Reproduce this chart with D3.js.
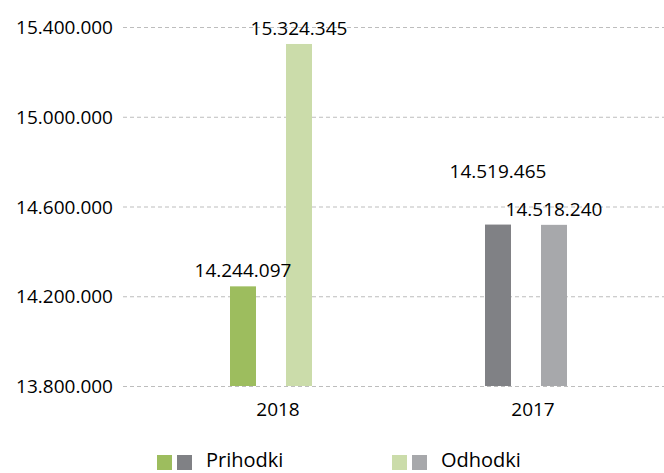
<!DOCTYPE html>
<html>
<head>
<meta charset="utf-8">
<script src="https://cdn.jsdelivr.net/npm/d3@7"></script>
<style>
body { margin: 0; background: #fff; }
text { font-family: "Open Sans", "Noto Sans", sans-serif; fill: #000; }
</style>
</head>
<body>
<svg id="chart" width="664" height="473"></svg>
<script>
// podatki
var years = ["2018", "2017"];
var series = ["Prihodki", "Odhodki"];
var values2018 = [14244097, 15324345];
var values2017 = [14519465, 14518240];
var yTicks = [13800000, 14200000, 14600000, 15000000, 15400000];
// barve: po letu in seriji
var colors2018 = ["#9dbd5e", "#cbdcaa"];
var colors2017 = ["#808185", "#a7a8ab"];

var svg = d3.select("#chart");
var fmt = function (v) { return d3.format(",")(v).replace(/,/g, "."); };

var y = d3.scaleLinear().domain([13800000, 15400000]).range([386, 27]);
var x = d3.scaleBand().domain(years).range([143.5, 653.5]);
var xs = d3.scaleBand().domain(series).range([-41, 41]).paddingInner(0.536);

// mreža
var yAxis = d3.axisLeft(y).tickValues(yTicks).tickSize(0).tickFormat(fmt);
var gy = svg.append("g").attr("transform", "translate(113,0)").call(yAxis);
gy.select(".domain").remove();
gy.selectAll("text").attr("x", 0).style("font-size", "19px").attr("dy", "0.35em");
svg.append("g").selectAll("line")
	.data(yTicks)
	.enter()
	.append("line")
	.attr("x1", 123).attr("x2", 664)
	.attr("y1", function (d) { return y(d) + 0.5; })
	.attr("y2", function (d) { return y(d) + 0.5; })
	.attr("stroke", "#bdbdbd")
	.attr("stroke-dasharray", "4,3");

var bars = [];
years.forEach(function (yr, i) {
	var vals = i == 0 ? values2018 : values2017;
	var cols = i == 0 ? colors2018 : colors2017;
	series.forEach(function (s, j) {
		bars.push({ year: yr, series: s, value: vals[j], color: cols[j] });
	});
});

svg.append("g").selectAll("rect")
	.data(bars)
	.enter()
	.append("rect")
	.attr("x", function (d) { return x(d.year) + x.bandwidth() / 2 + xs(d.series); })
	.attr("width", xs.bandwidth())
	.attr("y", function (d) { return y(d.value); })
	.attr("height", function (d) { return y(13800000) - y(d.value); })
	.attr("fill", function (d) { return d.color; });

// oznake vrednosti, če se prekrivajo, prvo dvignemo
bars.forEach(function (d) {
	d.lx = x(d.year) + x.bandwidth() / 2 + xs(d.series) + xs.bandwidth() / 2;
	d.ly = y(d.value) - 9;
});
for (var k = 0; k < bars.length - 1; k++) {
	var a = bars[k], b = bars[k + 1];
	if (a.year == b.year && Math.abs(a.ly - b.ly) < 20 && Math.abs(a.lx - b.lx) < 98) {
		a.ly = b.ly - 38;
	}
}
svg.append("g").selectAll("text")
	.data(bars)
	.enter()
	.append("text")
	.attr("x", function (d) { return d.lx; })
	.attr("y", function (d) { return d.ly; })
	.attr("text-anchor", "middle")
	.style("font-size", "19px")
	.text(function (d) { return fmt(d.value); });

// os x
var xAxis = d3.axisBottom(x).tickSize(0);
var gx = svg.append("g").attr("transform", "translate(7,386)").call(xAxis);
gx.select(".domain").remove();
gx.selectAll("text").style("font-size", "19px").attr("y", 0).attr("dy", "30px");

// legenda
var legendX = [157, 392];
series.forEach(function (s, j) {
	var g = svg.append("g").attr("transform", "translate(" + legendX[j] + ",455)");
	g.append("rect").attr("x", 0).attr("width", 15).attr("height", 15).attr("fill", colors2018[j]);
	g.append("rect").attr("x", 20).attr("width", 15).attr("height", 15).attr("fill", colors2017[j]);
	g.append("text").attr("x", 49).attr("y", 12).style("font-size", "20px").text(s);
});
</script>
</body>
</html>
